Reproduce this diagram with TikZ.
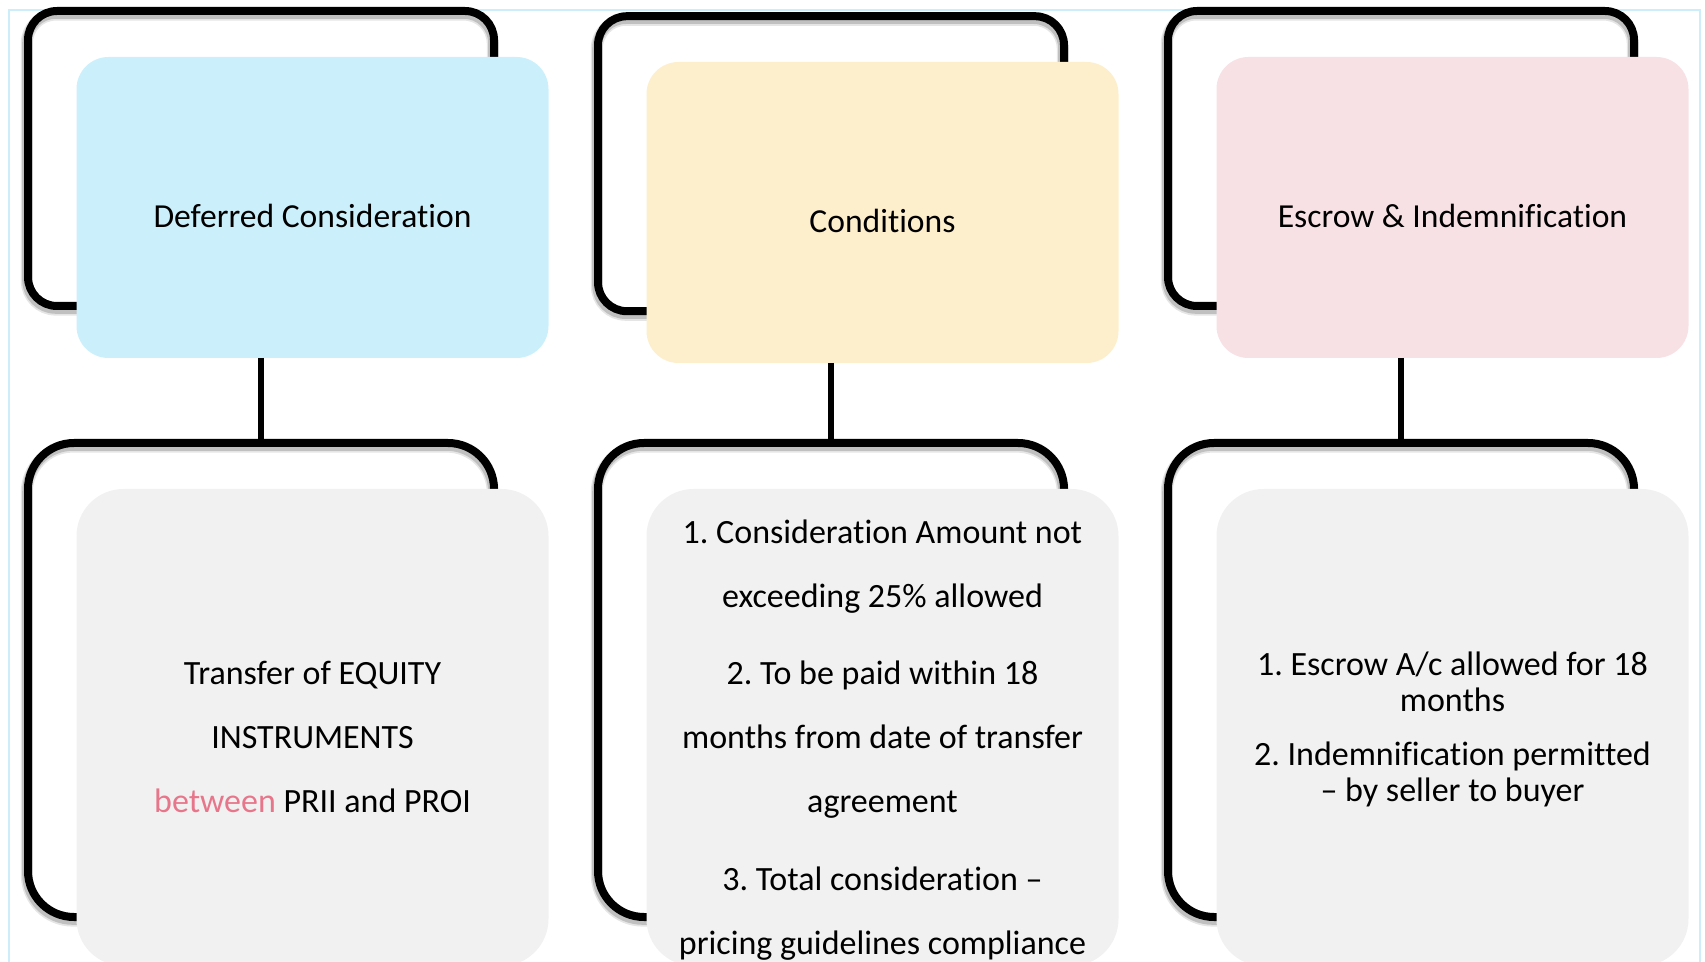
\documentclass[tikz,border=0pt]{standalone}
\usepackage{fontspec}
\setmainfont{Carlito}[Ligatures={NoCommon}]
\definecolor{boxblue}{RGB}{204,239,252}
\definecolor{boxyellow}{RGB}{253,239,204}
\definecolor{boxpink}{RGB}{248,225,229}
\definecolor{boxgray}{RGB}{241,241,241}
\definecolor{accentpink}{RGB}{232,118,139}
\definecolor{edgeblue}{RGB}{204,238,250}
\frenchspacing
% centred block of body text; #1 = line pitch
\newcommand{\bodyblock}[2]{\parbox[t]{230pt}{\centering\fontsize{17pt}{#1}\selectfont #2}}

\begin{document}
\begin{tikzpicture}[x=0.5pt,y=-0.5pt,
  castshadow/.style={
    preaction={draw=black, draw opacity=0.10, line width=6pt,
      transform canvas={shift={(-0.6pt,-1.8pt)}}},
    preaction={draw=black, draw opacity=0.16, line width=4.6pt,
      transform canvas={shift={(-0.6pt,-1.6pt)}}}},
  topframe/.style={castshadow, draw=black, line width=4pt, rounded corners=14.5pt,
    minimum width=233pt, minimum height=147.5pt, inner sep=0pt, outer sep=0pt},
  lowframe/.style={topframe, rounded corners=23pt, minimum height=237pt},
  headbox/.style={rectangle, rounded corners=16pt, minimum width=236pt,
    minimum height=150.5pt, inner sep=0pt, outer sep=0pt},
  bodybox/.style={headbox, fill=boxgray, rounded corners=23.5pt, minimum height=238.5pt},
  title/.style={anchor=base, inner sep=0pt, font=\fontsize{16.8pt}{20pt}\selectfont},
  bodytext/.style={anchor=base, inner sep=0pt},
  link/.style={draw=black, line width=2.6pt},
]
\useasboundingbox (0,0) rectangle (1705,962);
\clip (0,0) rectangle (1705,962);

% thin outline of the slide area
\draw[edgeblue, line width=1pt] (8.5,10) rectangle (1700,1000);

% upper row: outline frames and coloured headings
\node[topframe] (f1) at (261,158.5) {};
\node[topframe] (f2) at (831,163.7) {};
\node[topframe] (f3) at (1401,158.5) {};

\node[headbox, fill=boxblue]   (h1) at (312.5,207.5) {};
\node[headbox, fill=boxyellow] (h2) at (882.5,212.5) {};
\node[headbox, fill=boxpink]   (h3) at (1452.5,207.5) {};

\node[title] (t1) at (312.5,227.7) {Deferred Consideration};
\node[title] (t2) at (882.5,232.7) {Conditions};
\node[title] (t3) at (1452.5,228) {Escrow \& Indemnification};

% lower row: outline frames and grey detail panels
\node[lowframe] (g1) at (261,680) {};
\node[lowframe] (g2) at (831,680) {};
\node[lowframe] (g3) at (1401,680) {};

\node[bodybox] (b1) at (312.5,727.5) {};
\node[bodybox] (b2) at (882.5,727.5) {};
\node[bodybox] (b3) at (1452.5,727.5) {};

% vertical links from each heading down to its detail frame
\draw[link] (h1.south -| f1.south) -- (g1.north);
\draw[link] (h2.south -| f2.south) -- (g2.north);
\draw[link] (h3.south -| f3.south) -- (g3.north);

% detail texts
\node[bodytext] (d1) at (312.5,685) {\bodyblock{32pt}{Transfer of EQUITY\\
  INSTRUMENTS\\
  {\color{accentpink}between} PRII and PROI}};

\node[bodytext] (d2) at (882.5,543.5) {\bodyblock{32pt}{1. Consideration Amount not\\
  exceeding 25\% allowed\par\vspace{6.75pt}
  2. To be paid within 18\\
  months from date of transfer\\
  agreement\par\vspace{6.75pt}
  3. Total consideration –\\
  pricing guidelines compliance}};

\node[bodytext] (d3) at (1452.5,676) {\bodyblock{18pt}{1. Escrow A/c allowed for 18\\
  months\par\vspace{9pt}
  2. Indemnification permitted\\
  – by seller to buyer}};
\end{tikzpicture}
\end{document}
